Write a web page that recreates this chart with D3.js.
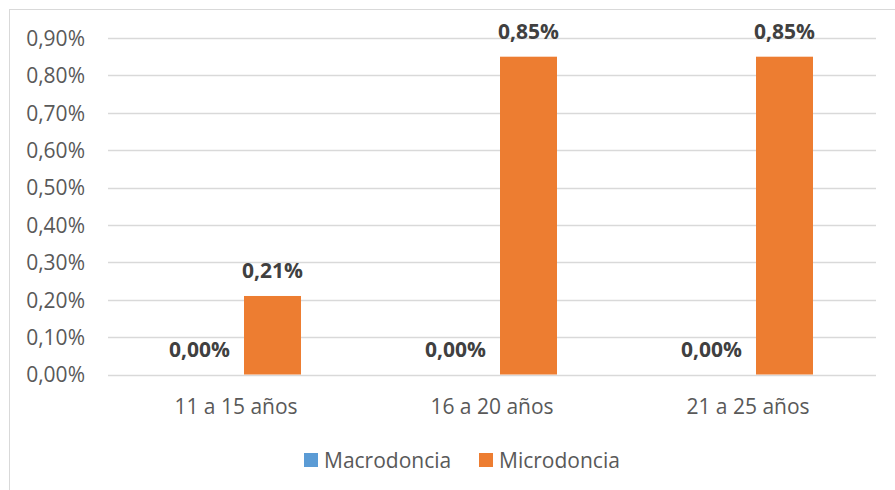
<!DOCTYPE html>
<html><head><meta charset="utf-8">
<script src="https://cdn.jsdelivr.net/npm/d3@7"></script>
<style>body{margin:0;background:#fff}svg{display:block}</style>
</head><body>
<svg id="c" width="895" height="490"></svg>
<script>
const categories = ["11 a 15 años", "16 a 20 años", "21 a 25 años"];
const seriesNames = ["Macrodoncia", "Microdoncia"];
const macrodoncia = [0.00, 0.00, 0.00];
const microdoncia = [0.21, 0.85, 0.85];
const yTicks = [0, 0.1, 0.2, 0.3, 0.4, 0.5, 0.6, 0.7, 0.8, 0.9];
const colors = ["#5B9BD5", "#ED7D31"];

(function () {
const fmt = v => v.toFixed(2).replace(".", ",") + "%";
const font = "'Open Sans', sans-serif";
const fs = 21;
const svg = d3.select("#c");

svg.append("rect").attr("x", 9.5).attr("y", 9.5).attr("width", 950).attr("height", 550)
  .attr("fill", "#fff").attr("stroke", "#D9D9D9");

const pLeft = 108, pRight = 876, pTop = 38, pBottom = 374.5;
const x = d3.scaleBand().domain(categories).range([pLeft, pRight]);
const y = d3.scaleLinear().domain([0, 0.9]).range([pBottom, pTop]);

// gridlines
svg.append("g").selectAll("line").data(yTicks).join("line")
  .attr("x1", pLeft).attr("x2", pRight)
  .attr("y1", d => Math.round(y(d)) + 0.5).attr("y2", d => Math.round(y(d)) + 0.5)
  .attr("stroke", "#D9D9D9").attr("stroke-width", 1.3);

// y axis
const yAxis = d3.axisLeft(y).tickValues(yTicks).tickFormat(fmt).tickSize(0).tickPadding(0);
const gy = svg.append("g").attr("transform", `translate(85,0)`).call(yAxis);
gy.select(".domain").remove();
gy.selectAll("text").attr("font-family", font).attr("font-size", fs).attr("fill", "#595959").attr("dy", "0.35em");

// x axis
const xAxis = d3.axisBottom(x).tickSize(0).tickPadding(0);
const gx = svg.append("g").attr("transform", `translate(0,${pBottom})`).call(xAxis);
gx.select(".domain").remove();
gx.selectAll("text").attr("font-family", font).attr("font-size", fs).attr("fill", "#595959").attr("dy", null).attr("y", 39);

const barW = 57, gap = 73;
const data = categories.map((c, i) => [
  {c, s: 0, v: macrodoncia[i]}, {c, s: 1, v: microdoncia[i]}
]).flat();
const cx = d => x(d.c) + x.bandwidth() / 2 + (d.s === 0 ? -gap / 2 : gap / 2);

svg.append("g").selectAll("rect").data(data).join("rect")
  .attr("x", d => cx(d) - barW / 2).attr("width", barW)
  .attr("y", d => y(d.v)).attr("height", d => pBottom - y(d.v))
  .attr("fill", d => colors[d.s]);

svg.append("g").selectAll("text").data(data).join("text")
  .attr("x", d => cx(d)).attr("y", d => y(d.v) - 18)
  .attr("text-anchor", "middle").attr("font-family", font).attr("font-size", fs)
  .attr("font-weight", "bold").attr("fill", "#404040").text(d => fmt(d.v));

// legend
const legendItems = [{name: seriesNames[0], x: 304}, {name: seriesNames[1], x: 479}];
const lg = svg.append("g").selectAll("g").data(legendItems).join("g")
  .attr("transform", d => `translate(${d.x},453)`);
lg.append("rect").attr("width", 14).attr("height", 14).attr("fill", (d, i) => colors[i]);
lg.append("text").attr("x", 20).attr("y", 15).attr("font-family", font).attr("font-size", fs)
  .attr("fill", "#595959").text(d => d.name);
})();
</script>
</body></html>
